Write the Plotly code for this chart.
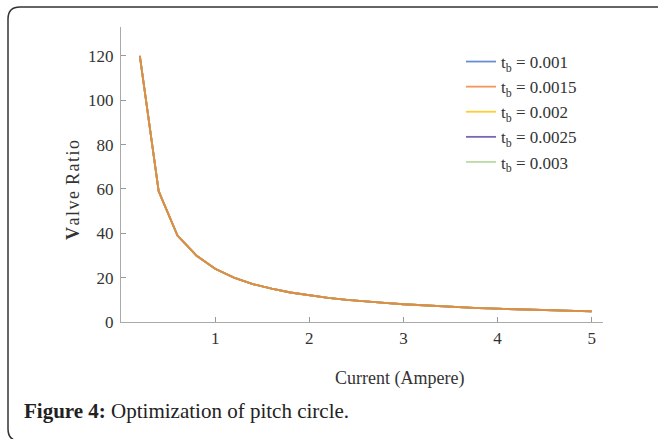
import plotly.graph_objects as go

# ---- data ----
current = [0.2, 0.4, 0.6, 0.8, 1.0, 1.2, 1.4, 1.6, 1.8, 2.0, 2.2, 2.4, 2.6,
           2.8, 3.0, 3.2, 3.4, 3.6, 3.8, 4.0, 4.2, 4.4, 4.6, 4.8, 5.0]
valve_ratio = [120, 59, 39, 30, 24, 20, 17.1, 15, 13.3, 12, 10.9, 10, 9.2,
               8.6, 8, 7.5, 7.1, 6.7, 6.3, 6, 5.7, 5.5, 5.2, 5, 4.8]
series_names = ["t<sub>b</sub> = 0.001", "t<sub>b</sub> = 0.0015", "t<sub>b</sub> = 0.002",
                "t<sub>b</sub> = 0.0025", "t<sub>b</sub> = 0.003"]
series_colors = ["#4472C4", "#ED7D31", "#FFC000", "#5B3FA0", "#A9D18E"]
draw_order = [0, 3, 2, 4, 1]
x_ticks = [1, 2, 3, 4, 5]
y_ticks = [0, 20, 40, 60, 80, 100, 120]

W, H = 658, 439
ML, MR, MT, MB = 121, 55, 27, 117
PW, PH = W - ML - MR, H - MT - MB

def px(x):
    return (x - ML) / PW

def py(y):
    return (H - MB - y) / PH

SERIF = "Liberation Serif"
HS = "\u200a"

fig = go.Figure()
for i in draw_order:
    fig.add_trace(go.Scatter(x=current, y=valve_ratio, mode="lines", name=series_names[i],
                             line=dict(color=series_colors[i], width=1.8),
                             opacity=0.8,
                             legendgroup=str(i), legendrank=i + 1))

# rounded border path (pixel coords converted to paper)
x0, x1, y0, y1, r = 8, 672, 7, 441, 12
path = (f"M {px(x0+r)},{py(y0)} L {px(x1-r)},{py(y0)} "
        f"Q {px(x1)},{py(y0)} {px(x1)},{py(y0+r)} L {px(x1)},{py(y1-r)} "
        f"Q {px(x1)},{py(y1)} {px(x1-r)},{py(y1)} L {px(x0+r)},{py(y1)} "
        f"Q {px(x0)},{py(y1)} {px(x0)},{py(y1-r)} L {px(x0)},{py(y0+r)} "
        f"Q {px(x0)},{py(y0)} {px(x0+r)},{py(y0)} Z")

ytitle = "<b>V</b>" + HS + HS.join("alve") + HS + " " + HS.join("Ratio")

fig.update_layout(
    width=W, height=H,
    margin=dict(l=ML, r=MR, t=MT, b=MB),
    paper_bgcolor="white", plot_bgcolor="white",
    font=dict(family=SERIF, color="#333333"),
    showlegend=True,
    legend=dict(x=px(461), y=py(44), xanchor="left", yanchor="top",
                font=dict(family=SERIF, size=17, color="#333333"),
                traceorder="grouped", tracegroupgap=0,
                bgcolor="rgba(0,0,0,0)", itemwidth=30),
    xaxis=dict(range=[0, 5.12], tickvals=x_ticks, ticks="inside", ticklen=5,
               tickcolor="#999999", showline=True, linecolor="#aaaaaa", linewidth=1.2,
               showgrid=False, zeroline=False,
               tickfont=dict(family=SERIF, size=17, color="#333333")),
    yaxis=dict(range=[0, 133], tickvals=y_ticks, ticks="inside", ticklen=5,
               tickcolor="#999999", showline=True, linecolor="#aaaaaa", linewidth=1.2,
               showgrid=False, zeroline=False, ticklabelstandoff=3,
               tickfont=dict(family=SERIF, size=17, color="#333333")),
    shapes=[dict(type="path", xref="paper", yref="paper", path=path,
                 line=dict(color="#333333", width=1.5), layer="above")],
    annotations=[
        dict(xref="paper", yref="paper", x=px(73), y=py(190), textangle=-90,
             xanchor="center", yanchor="middle", showarrow=False,
             text=ytitle,
             font=dict(family=SERIF, size=18, color="#333333")),
        dict(xref="paper", yref="paper", x=px(399), y=py(378),
             xanchor="center", yanchor="middle", showarrow=False,
             text="Current (Ampere)",
             font=dict(family=SERIF, size=18, color="#333333")),
        dict(xref="paper", yref="paper", x=px(22), y=py(411),
             xanchor="left", yanchor="middle", showarrow=False,
             text="<b>Figure 4:</b> Optimization of pitch circle.",
             font=dict(family=SERIF, size=21, color="#222222")),
    ],
)

fig.write_html("out.html")
